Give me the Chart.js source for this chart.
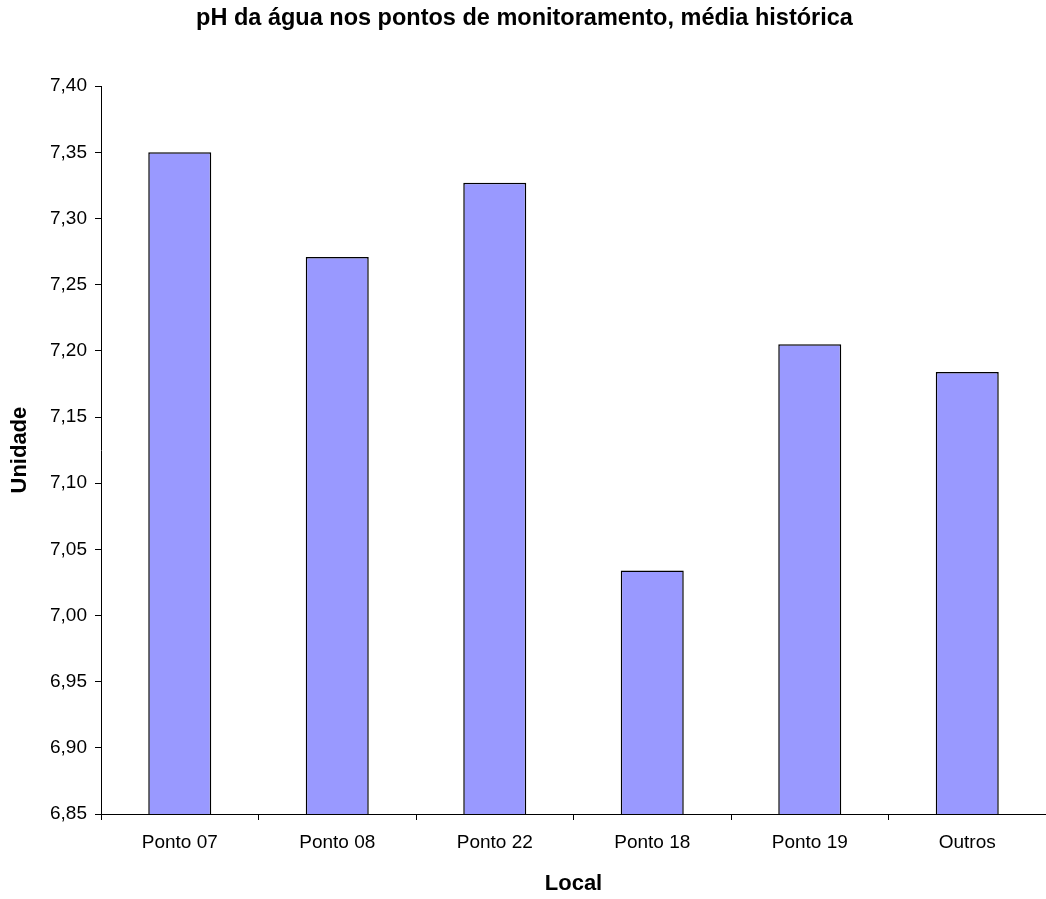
<!DOCTYPE html>
<html>
<head>
<meta charset="utf-8">
<script src="https://cdn.jsdelivr.net/npm/chart.js@4.4.1/dist/chart.umd.min.js"></script>
<style>
html,body{margin:0;padding:0;background:#fff;}
#wrap{width:1046px;height:899px;position:relative;}
</style>
</head>
<body>
<div id="wrap"><canvas id="c" width="1046" height="899"></canvas></div>
<script>
const categories = ["Ponto 07", "Ponto 08", "Ponto 22", "Ponto 18", "Ponto 19", "Outros"];
const phValues = [7.350, 7.271, 7.327, 7.034, 7.205, 7.184];
const yTicks = [6.85, 6.90, 6.95, 7.00, 7.05, 7.10, 7.15, 7.20, 7.25, 7.30, 7.35, 7.40];
const chartTitle = "pH da água nos pontos de monitoramento, média histórica";
const xTitle = "Local";
const yTitle = "Unidade";

const FONT = "'Liberation Sans', Arial, sans-serif";

new Chart(document.getElementById('c'), {
  type: 'bar',
  data: {
    labels: categories,
    datasets: [{
      data: phValues,
      backgroundColor: '#9999FF',
      borderColor: '#000000',
      borderWidth: 1.5,
      borderSkipped: false,
      categoryPercentage: 1.0,
      barPercentage: 0.4
    }]
  },
  options: {
    responsive: false,
    animation: false,
    devicePixelRatio: 1,
    layout: { padding: { left: 0, right: -3, top: 0, bottom: 0 } },
    plugins: {
      legend: { display: false },
      tooltip: { enabled: false },
      title: {
        display: true,
        text: chartTitle,
        color: '#000',
        font: { family: FONT, size: 23.5, weight: 'bold' },
        padding: { top: 4, bottom: 54 }
      }
    },
    scales: {
      x: {
        grid: { display: true, drawOnChartArea: false, drawTicks: true, tickLength: 6, color: '#000', offset: true },
        border: { display: true, color: '#000', width: 1 },
        ticks: { color: '#000', font: { family: FONT, size: 19 }, padding: 11, maxRotation: 0, autoSkip: false },
        title: { display: true, text: xTitle, color: '#000', font: { family: FONT, size: 22, weight: 'bold' }, padding: { top: 0, bottom: 2 } },
        afterFit: s => { s.height = 85; }
      },
      y: {
        min: 6.85,
        max: 7.40,
        grid: { display: true, drawOnChartArea: false, drawTicks: true, tickLength: 6, color: '#000' },
        border: { display: true, color: '#000', width: 1 },
        afterBuildTicks: s => { s.ticks = yTicks.map(v => ({ value: v })); },
        ticks: {
          color: '#000',
          font: { family: FONT, size: 19 },
          padding: 8,
          callback: v => Number(v).toFixed(2).replace('.', ',')
        },
        title: { display: true, text: yTitle, color: '#000', font: { family: FONT, size: 22, weight: 'bold' }, padding: { top: 7, bottom: 0 } },
        afterFit: s => { s.width = 101; }
      }
    }
  }
});
</script>
</body>
</html>
